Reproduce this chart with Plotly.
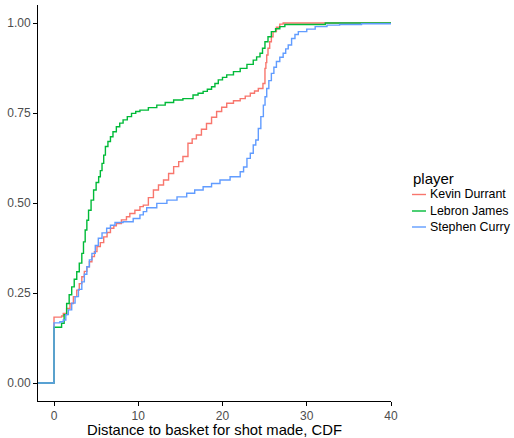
import plotly.graph_objects as go

# Empirical CDF of made-shot distance (feet) per player, as step points.
players = ["Kevin Durrant", "Lebron James", "Stephen Curry"]
colors = ["#F8766D", "#00BA38", "#619CFF"]

durant_x = [-5, 0, 0.9, 1.1, 1.5, 1.9, 2.3, 2.7, 3.0, 3.3, 3.6, 3.9, 4.2, 4.5, 4.8, 5.1,
            5.5, 5.9, 6.3, 6.7, 7.1, 7.4, 8.0, 8.6, 9.0, 9.6, 10.2, 10.6, 11.2, 11.8, 12.4,
            13.0, 13.6, 14.2, 14.8, 15.3, 15.9, 16.4, 16.9, 17.5, 18.1, 18.7, 19.3, 19.9,
            20.5, 21.3, 22.1, 22.7, 23.3, 23.8, 24.25, 24.8, 25.04, 25.15, 25.25, 25.4,
            25.6, 25.8, 26.0, 26.4, 26.8, 27.2, 45]
durant_y = [0.0, 0.183, 0.186, 0.193, 0.207, 0.221, 0.24, 0.258, 0.276, 0.295, 0.31, 0.323,
            0.337, 0.351, 0.365, 0.379, 0.39, 0.406, 0.418, 0.43, 0.437, 0.443, 0.453, 0.462,
            0.471, 0.48, 0.49, 0.494, 0.515, 0.536, 0.55, 0.564, 0.582, 0.601, 0.615, 0.629,
            0.666, 0.678, 0.689, 0.705, 0.721, 0.738, 0.754, 0.766, 0.777, 0.784, 0.79,
            0.797, 0.805, 0.811, 0.818, 0.832, 0.874, 0.89, 0.911, 0.93, 0.948, 0.962,
            0.976, 0.988, 0.997, 1.0, 1.0]

lebron_x = [-5, 0, 0.9, 1.2, 1.5, 1.8, 2.1, 2.4, 2.7, 3.0, 3.3, 3.5, 3.7, 3.9, 4.1, 4.4,
            4.7, 5.0, 5.3, 5.5, 5.7, 5.9, 6.1, 6.4, 6.7, 7.0, 7.4, 7.8, 8.2, 8.7, 9.2, 9.7,
            10.2, 11.2, 12.2, 13.2, 14.2, 15.3, 16.5, 17.1, 17.7, 18.2, 18.7, 19.1, 19.5,
            20.0, 20.5, 21.3, 22.1, 22.9, 23.65, 24.05, 24.45, 24.75, 25.04, 25.4, 25.8,
            26.3, 26.8, 27.4, 32.2, 45]
lebron_y = [0.0, 0.155, 0.166, 0.19, 0.221, 0.245, 0.267, 0.288, 0.309, 0.333, 0.36, 0.392,
            0.425, 0.452, 0.48, 0.508, 0.536, 0.557, 0.573, 0.59, 0.61, 0.633, 0.657, 0.671,
            0.684, 0.698, 0.712, 0.722, 0.731, 0.74, 0.749, 0.754, 0.758, 0.765, 0.772,
            0.779, 0.786, 0.79, 0.8, 0.805, 0.81, 0.816, 0.823, 0.832, 0.842, 0.849, 0.856,
            0.865, 0.874, 0.885, 0.897, 0.906, 0.916, 0.93, 0.948, 0.962, 0.976, 0.984,
            0.99, 0.996, 1.0, 1.0]

curry_x = [-5, 0, 0.7, 1.1, 1.4, 1.7, 2.1, 2.5, 2.9, 3.3, 3.6, 3.9, 4.2, 4.5, 4.9, 5.26,
           5.7, 6.25, 6.7, 7.24, 8.2, 9.4, 10.2, 10.6, 11.0, 12.2, 13.4, 14.6, 15.75, 16.7,
           17.7, 18.7, 19.7, 20.9, 22.1, 22.5, 22.9, 23.3, 23.65, 23.95, 24.25, 24.55,
           24.85, 25.05, 25.25, 25.5, 25.8, 26.1, 26.4, 26.8, 27.2, 27.5, 27.8, 28.2, 28.6,
           29.0, 30.0, 31.0, 32.4, 33.9, 36.5, 45]
curry_y = [0.0, 0.167, 0.17, 0.175, 0.19, 0.203, 0.222, 0.24, 0.26, 0.281, 0.302, 0.323,
           0.342, 0.36, 0.382, 0.402, 0.417, 0.43, 0.438, 0.446, 0.448, 0.457, 0.467, 0.476,
           0.487, 0.499, 0.508, 0.517, 0.527, 0.536, 0.545, 0.554, 0.564, 0.573, 0.587,
           0.6, 0.624, 0.638, 0.661, 0.675, 0.707, 0.74, 0.772, 0.795, 0.818, 0.84, 0.86,
           0.877, 0.893, 0.905, 0.916, 0.928, 0.939, 0.957, 0.968, 0.976, 0.983, 0.99,
           0.994, 0.996, 0.998, 1.0]

series_x = [durant_x, lebron_x, curry_x]
series_y = [durant_y, lebron_y, curry_y]

x_ticks = [0, 10, 20, 30, 40]
y_ticks = [0.0, 0.25, 0.5, 0.75, 1.0]
y_labels = ["0.00", "0.25", "0.50", "0.75", "1.00"]

W, H = 514, 438
ML, MR, MT, MB = 38, 123, 5, 37
PW, PH = W - ML - MR, H - MT - MB

fig = go.Figure()
for name, col, xs, ys in zip(players, colors, series_x, series_y):
    fig.add_trace(go.Scatter(
        x=xs, y=ys, mode="lines", name=name, showlegend=False,
        line=dict(color=col, width=1.4, shape="hv"),
    ))


def px_x(p):
    return (p - ML) / PW


def px_y(p):
    return (H - MB - p) / PH


# Legend drawn by hand: short key segments like a ggplot guide.
annotations = [dict(
    text="player", xref="paper", yref="paper", x=px_x(411), y=px_y(178),
    xanchor="left", yanchor="middle", showarrow=False,
    font=dict(size=15, color="black"),
)]
shapes = []
key_rows = [194.5, 211, 227]
for name, col, row in zip(players, colors, key_rows):
    shapes.append(dict(
        type="line", xref="paper", yref="paper",
        x0=px_x(412), x1=px_x(426), y0=px_y(row), y1=px_y(row),
        line=dict(color=col, width=1.4),
    ))
    annotations.append(dict(
        text=name, xref="paper", yref="paper", x=px_x(428), y=px_y(row),
        xanchor="left", yanchor="middle", showarrow=False,
        font=dict(size=12.4, color="black"),
    ))

axis_common = dict(
    showgrid=False, zeroline=False, showline=True, linecolor="black", linewidth=1,
    ticks="outside", ticklen=4, tickcolor="black", tickwidth=1, automargin=False,
    tickfont=dict(family="Liberation Sans, Arial", size=12, color="#4D4D4D"),
)

fig.update_layout(
    width=W, height=H,
    margin=dict(l=ML, r=MR, t=MT, b=MB),
    plot_bgcolor="white", paper_bgcolor="white",
    font=dict(family="Liberation Sans, Arial", color="black"),
    showlegend=False,
    xaxis=dict(range=[-1.9, 40.0], tickvals=x_ticks, **axis_common,
               title=dict(text="Distance to basket for shot made, CDF",
                          font=dict(size=14.8, color="black"), standoff=5)),
    yaxis=dict(range=[-0.05, 1.05], tickvals=y_ticks, ticktext=y_labels, **axis_common),
    annotations=annotations,
    shapes=shapes,
)

fig.write_html("out.html")
